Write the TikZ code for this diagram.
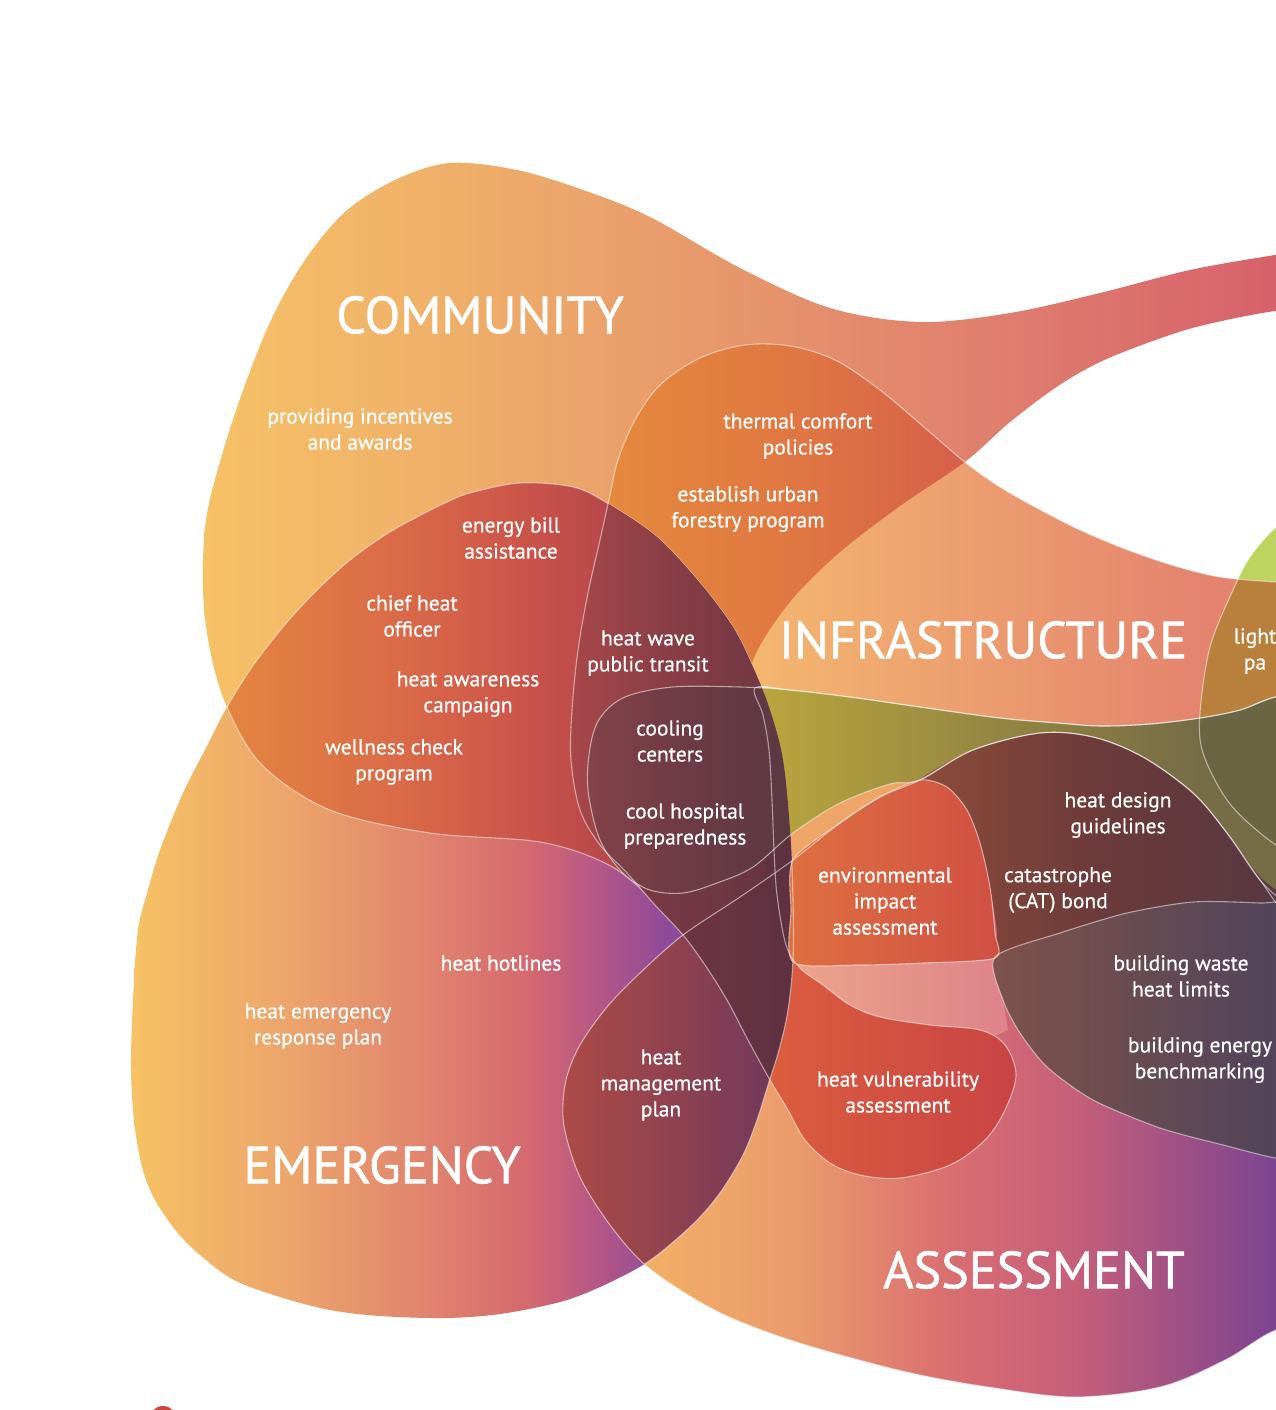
\documentclass[tikz,border=0pt]{standalone}
\usepackage{fontspec}
\setmainfont{PT Sans}
\newfontfamily\lblfont[FakeBold=0.6]{PT Sans}
\newfontfamily\ttlfont[FakeBold=1.2]{PT Sans}
\definecolor{cCa}{HTML}{F6C266}\definecolor{cCb}{HTML}{EFAF69}\definecolor{cCc}{HTML}{E8996C}\definecolor{cCd}{HTML}{DF7E6E}\definecolor{cCe}{HTML}{D7616B}
\definecolor{cEa}{HTML}{F6C265}\definecolor{cEb}{HTML}{EBA26B}\definecolor{cEc}{HTML}{DE7E6E}\definecolor{cEd}{HTML}{D4686F}\definecolor{cEe}{HTML}{B45688}\definecolor{cEf}{HTML}{8C4A9A}
\definecolor{cAa}{HTML}{F3B066}\definecolor{cAb}{HTML}{EA9A6C}\definecolor{cAc}{HTML}{D96E70}\definecolor{cAd}{HTML}{C45E7A}\definecolor{cAe}{HTML}{7C4490}
\definecolor{cIa}{HTML}{F4B76F}\definecolor{cIb}{HTML}{EDA06F}\definecolor{cIc}{HTML}{E4846F}
\definecolor{cTha}{HTML}{E5893D}\definecolor{cThb}{HTML}{E07642}\definecolor{cThc}{HTML}{D6604A}
\definecolor{cRa}{HTML}{E48540}\definecolor{cRb}{HTML}{DA6A48}\definecolor{cRc}{HTML}{CC5549}\definecolor{cRd}{HTML}{B7474B}
\definecolor{cMa}{HTML}{A8474A}\definecolor{cMb}{HTML}{8E3F46}\definecolor{cMc}{HTML}{6A3642}
\definecolor{cWa}{HTML}{7C3A45}\definecolor{cWb}{HTML}{683442}
\definecolor{cCoa}{HTML}{85424A}\definecolor{cCob}{HTML}{6E3B45}\definecolor{cCoc}{HTML}{5B3843}
\definecolor{cDCa}{HTML}{6E3443}\definecolor{cDCb}{HTML}{5E3141}
\definecolor{cHMa}{HTML}{AC4A47}\definecolor{cHMb}{HTML}{93434F}\definecolor{cHMc}{HTML}{74395A}
\definecolor{cHVa}{HTML}{DB5D3F}\definecolor{cHVb}{HTML}{C84444}
\definecolor{cEIa}{HTML}{DE6F40}\definecolor{cEIb}{HTML}{D05044}
\definecolor{cLPa}{HTML}{ECA48B}\definecolor{cLPb}{HTML}{DF848A}
\definecolor{cDa}{HTML}{8C4B3A}\definecolor{cDb}{HTML}{6C3A3A}\definecolor{cDc}{HTML}{573843}
\definecolor{cPa}{HTML}{7E524A}\definecolor{cPb}{HTML}{52445A}
\definecolor{cTa}{HTML}{B8A43E}\definecolor{cTb}{HTML}{9B8C41}\definecolor{cTc}{HTML}{766C46}
\definecolor{cG}{HTML}{BDD45F}\definecolor{cGI}{HTML}{B8803C}\definecolor{cGT}{HTML}{6A6643}
\definecolor{cStrip}{HTML}{EFA568}\definecolor{cDot}{HTML}{C8483F}

\def\gC{-100/cCa,205/cCa,450/cCb,700/cCc,1000/cCd,1275/cCe,1500/cCe}
\def\gE{-100/cEa,135/cEa,300/cEb,450/cEc,530/cEd,600/cEe,670/cEf,1500/cEf}
\def\gA{-100/cAa,640/cAa,800/cAb,950/cAc,1080/cAd,1275/cAe,1500/cAe}
\def\gI{-100/cIa,750/cIa,950/cIb,1200/cIc,1500/cIc}
\def\gTh{-100/cTha,610/cTha,800/cThb,960/cThc,1500/cThc}
\def\gR{-100/cRa,227/cRa,400/cRb,520/cRc,610/cRd,1500/cRd}
\def\gM{-100/cMa,570/cMa,650/cMb,790/cMc,1500/cMc}
\def\gW{-100/cWa,620/cWa,770/cWb,1500/cWb}
\def\gCo{-100/cCoa,587/cCoa,680/cCob,790/cCoc,1500/cCoc}
\def\gDC{-100/cDCa,680/cDCa,790/cDCb,1500/cDCb}
\def\gHM{-100/cHMa,563/cHMa,660/cHMb,770/cHMc,1500/cHMc}
\def\gHV{-100/cHVa,770/cHVa,1015/cHVb,1500/cHVb}
\def\gEI{-100/cEIa,793/cEIa,997/cEIb,1500/cEIb}
\def\gLP{-100/cLPa,793/cLPa,1000/cLPb,1500/cLPb}
\def\gD{-100/cDa,920/cDa,1100/cDb,1275/cDc,1500/cDc}
\def\gP{-100/cPa,993/cPa,1275/cPb,1500/cPb}
\def\gT{-100/cTa,770/cTa,950/cTb,1200/cTc,1500/cTc}

\newcommand\hgrad[1]{\foreach \gx/\gc [remember=\gx as \px (initially -300), remember=\gc as \pc (initially white)] in #1 {\shade[left color=\pc,right color=\gc] (\px-0.5,-60) rectangle (\gx+0.5,1470);}}

\def\Cpath{plot[smooth cycle,tension=0.55] coordinates {(450,163) (517,170) (583,190) (650,217) (740,268) (830,308) (920,322) (1010,313) (1100,293) (1190,270) (1275,255) (1330,247) (1330,309) (1275,311) (1200,326) (1150,342) (1100,362) (1058,386) (1010,422) (966,461) (900,506) (840,552) (795,596) (765,637) (750,670) (750,705) (755,740) (762,820) (760,900) (722,952) (690,938) (650,897) (607,864) (540,842) (430,833) (330,810) (262,765) (227,707) (210,650) (203,590) (206,520) (222,455) (245,385) (272,318) (305,260) (345,212) (395,180)}}
\def\Epath{plot[smooth cycle,tension=0.55] coordinates {(520,483) (573,487) (607,503) (657,537) (700,583) (733,627) (753,667) (770,710) (783,760) (790,830) (793,900) (793,960) (788,1010) (779,1050) (768,1085) (757,1120) (743,1155) (722,1190) (700,1217) (672,1243) (643,1265) (600,1287) (560,1302) (500,1314) (445,1318) (380,1316) (330,1310) (280,1297) (234,1280) (200,1255) (177,1232) (155,1200) (142,1167) (134,1120) (131,1067) (133,1000) (138,930) (148,890) (160,850) (183,793) (205,750) (227,707) (252,667) (283,627) (315,592) (350,560) (385,535) (417,517) (445,503) (470,493)}}
\def\Apath{plot[smooth cycle,tension=0.55] coordinates {(643,1263) (610,1225) (583,1183) (570,1150) (563,1117) (566,1080) (580,1045) (607,1007) (640,973) (683,935) (740,897) (793,860) (840,823) (880,797) (920,780) (973,750) (1040,733) (1093,737) (1143,757) (1193,793) (1227,833) (1260,880) (1290,920) (1330,950) (1330,1320) (1276,1330) (1225,1360) (1160,1387) (1074,1397) (988,1387) (920,1375) (859,1360) (790,1340) (729,1317) (685,1293)}}
\def\Ipath{plot[smooth cycle,tension=0.55] coordinates {(610,495) (618,460) (635,420) (660,385) (700,358) (745,345) (790,346) (835,360) (880,390) (925,428) (966,463) (1000,487) (1035,507) (1080,530) (1128,550) (1175,566) (1220,577) (1275,582) (1330,585) (1330,690) (1275,697) (1240,710) (1200,718) (1150,724) (1100,726) (1058,723) (1000,718) (920,707) (850,697) (790,690) (755,688) (763,715) (769,750) (772,800) (774,850) (777,895) (786,945) (800,968) (823,985) (850,1005) (880,1017) (930,1025) (980,1030) (1005,1045) (1016,1075) (1005,1110) (985,1140) (950,1165) (900,1178) (860,1175) (830,1163) (805,1140) (788,1110) (770,1080) (748,1040) (727,1000) (705,965) (683,935) (655,905) (627,873) (600,845) (580,810) (571,760) (572,710) (578,650) (588,593) (600,540)}}
\def\Tpath{plot[smooth cycle,tension=0.55] coordinates {(600,718) (625,697) (673,687) (740,687) (790,690) (850,697) (920,707) (1000,718) (1058,723) (1100,726) (1150,724) (1200,718) (1240,710) (1275,697) (1330,683) (1330,915) (1290,905) (1260,880) (1227,833) (1193,793) (1143,757) (1093,737) (1040,733) (973,750) (920,780) (890,784) (840,803) (793,833) (753,867) (717,883) (683,893) (650,890) (623,873) (600,840) (588,790) (590,748)}}
\def\Gpath{plot[smooth cycle,tension=0.55] coordinates {(1233,590) (1250,557) (1275,528) (1310,500) (1350,490) (1350,900) (1300,862) (1260,833) (1227,800) (1203,753) (1200,713) (1210,647)}}
\def\Dpath{plot[smooth cycle,tension=0.45] coordinates {(920,780) (973,750) (1040,733) (1093,737) (1143,757) (1193,793) (1227,833) (1260,877) (1290,903) (1250,905) (1193,902) (1127,913) (1060,933) (995,957) (997,933) (990,887) (980,843) (967,810) (947,787)}}
\def\Ppath{plot[smooth cycle,tension=0.45] coordinates {(995,957) (1060,933) (1127,913) (1193,902) (1260,903) (1330,908) (1340,1040) (1330,1165) (1275,1158) (1227,1146) (1160,1128) (1093,1100) (1047,1067) (1020,1033) (1003,1000)}}
\def\EIpath{plot[smooth cycle,tension=0.45] coordinates {(793,860) (840,823) (880,797) (920,780) (947,787) (967,810) (980,843) (990,887) (995,933) (995,958) (923,963) (857,965) (793,962) (791,910)}}

\tikzset{
  bline/.style={draw=white, draw opacity=0.5, line width=1.1pt},
  lbl/.style={text=white, align=center, inner sep=0pt, font=\lblfont\fontsize{21.5}{26}\selectfont},
  ttl/.style={text=white, inner sep=0pt, font=\ttlfont\fontsize{52}{52}\selectfont}
}

\begin{document}
\begin{tikzpicture}[x=1pt,y=-1pt]
\useasboundingbox (0,0) rectangle (1275,1410);
\fill[white] (0,0) rectangle (1275,1410);

% base layers
\fill[cStrip] (760,840) -- (800,815) -- (850,793) -- (900,777) -- (945,770) -- (940,800) -- (880,815) -- (830,845) -- (795,875) -- (760,880) -- cycle;
\begin{scope}\clip \Tpath; \hgrad{\gT}\end{scope}
\begin{scope}\clip \Cpath; \hgrad{\gC}\end{scope}
\fill[cG] \Gpath;
\begin{scope}\clip \Epath; \hgrad{\gE}\end{scope}
\begin{scope}\clip \Apath; \hgrad{\gA}\end{scope}
\begin{scope}\clip \Ipath; \hgrad{\gI}\end{scope}
% overlaps
\begin{scope}\clip \Cpath; \clip \Ipath; \hgrad{\gTh}\end{scope}
\begin{scope}\clip \Cpath; \clip \Epath; \hgrad{\gR}\end{scope}
\begin{scope}\clip \Epath; \draw[bline] \Cpath;\end{scope}
\begin{scope}\clip \Cpath; \draw[bline] \Epath;\end{scope}
\begin{scope}\clip \Epath; \clip \Ipath; \hgrad{\gM}\end{scope}
\begin{scope}\clip \Epath; \clip \Ipath; \clip (600,855) rectangle (800,960); \hgrad{\gW}\end{scope}
\begin{scope}\clip \Apath; \clip (780,945) -- (1000,945) -- (1003,1000) -- (1008,1030) -- (995,1036) -- (780,1045) -- cycle; \hgrad{\gLP}\end{scope}
\begin{scope}\clip \Epath; \clip \Apath; \hgrad{\gHM}\end{scope}
\begin{scope}\clip \Ipath; \clip \Apath; \hgrad{\gHV}\end{scope}
\begin{scope}\clip \Epath; \clip \Ipath; \clip \Apath; \hgrad{\gDC}\end{scope}
\begin{scope}\clip \Epath; \clip (765,800) rectangle (800,985); \hgrad{\gDC}\end{scope}
\begin{scope}\clip \Tpath; \hgrad{\gT}\end{scope}
\begin{scope}\clip \Tpath; \clip \Epath; \hgrad{\gCo}\end{scope}
\begin{scope}\clip \Gpath; \clip \Ipath; \fill[cGI] (1150,480) rectangle (1350,800);\end{scope}
\begin{scope}\clip \Gpath; \clip \Tpath; \fill[cGT] (1150,600) rectangle (1350,950);\end{scope}
\begin{scope}\clip \Dpath; \hgrad{\gD}\end{scope}
\begin{scope}\clip \Ppath; \hgrad{\gP}\end{scope}
\begin{scope}\clip \EIpath; \hgrad{\gEI}\end{scope}

% outlines
\draw[bline] \Ipath;
\draw[bline] \Tpath;
\draw[bline] \Apath;
\draw[bline] \Gpath;
\draw[bline] \Ppath;
\draw[bline] \EIpath;
\begin{scope}\clip \Apath; \draw[bline] \Epath;\end{scope}

\fill[cDot] (163,1420) circle (14);

% titles
\node[ttl] (tcom) at (480,315) {COMMUNITY};
\node[ttl] (tinf) at (983,640) {INFRASTRUCTURE};
\node[ttl] (temg) at (382,1165) {EMERGENCY};
\node[ttl] (tass) at (1034,1270) {ASSESSMENT};

% labels
\node[lbl] (l1) at (360,429) {providing incentives\\and awards};
\node[lbl] (l2) at (798,436) {thermal comfort\\policies};
\node[lbl] (l3) at (748,509) {establish urban\\forestry program};
\node[lbl] (l4) at (511,538) {energy bill\\assistance};
\node[lbl] (l5) at (412,616) {chief heat\\officer};
\node[lbl] (l6) at (468,694) {heat awareness\\campaign};
\node[lbl] (l7) at (394,762) {wellness check\\program};
\node[lbl] (l8) at (648,653) {heat wave\\public transit};
\node[lbl] (l9) at (670,741) {cooling\\centers};
\node[lbl] (l10) at (685,826) {cool hospital\\preparedness};
\node[lbl] (l11) at (885,901) {environmental\\impact\\assessment};
\node[lbl] (l12) at (1118,815) {heat design\\guidelines};
\node[lbl] (l13) at (1058,890) {catastrophe\\(CAT) bond};
\node[lbl] (l14) at (1181,976) {building waste\\heat limits};
\node[lbl] (l15) at (1200,1060) {building energy\\benchmarking};
\node[lbl] (l16) at (501,963) {heat hotlines};
\node[lbl] (l17) at (318,1026) {heat emergency\\response plan};
\node[lbl] (l18) at (661,1085) {heat\\management\\plan};
\node[lbl] (l19) at (898,1092) {heat vulnerability\\assessment};
\node[lbl] (l20) at (1255,651) {light\\pa};
\end{tikzpicture}
\end{document}
